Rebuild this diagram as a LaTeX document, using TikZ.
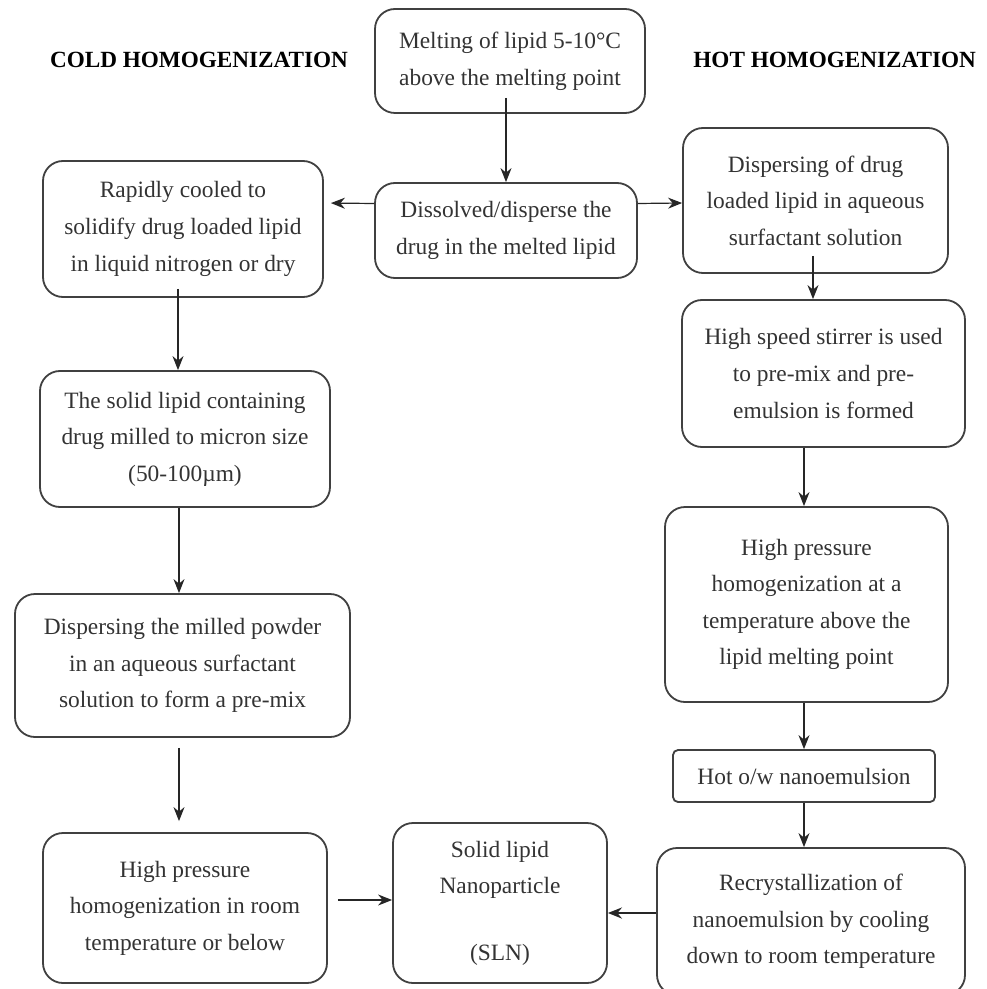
\documentclass[tikz,border=0pt]{standalone}
\usepackage{fontspec}
\setmainfont{Liberation Serif}
\usetikzlibrary{calc,arrows.meta}
\tikzset{>={Stealth[length=7pt,width=5.5pt]}}
\tikzset{
  stage/.style={draw=black!75, line width=0.9pt, rounded corners=10pt, align=center,
    text=black!80, inner sep=0pt, font=\fontsize{11.7}{18.3}\selectfont},
  heading/.style={font=\fontsize{11.6}{14}\selectfont\bfseries, text=black},
  flow/.style={->, line width=0.6pt, draw=black!85}
}

\begin{document}
\begin{tikzpicture}[x=0.5pt, y=-0.5pt]
    \fill[white] (0,0) rectangle (986,989);
    \useasboundingbox (0,0) rectangle (986,989);
    \node[heading] (coldhead) at (199,60) {COLD HOMOGENIZATION};
    \node[heading, anchor=east] (hothead) at (983,60) {HOT HOMOGENIZATION};
    % middle column
    \node[stage, minimum width=135pt, minimum height=52pt] (melt) at (510,61)
      {Melting of lipid 5-10°C\\above the melting point};
    \node[stage, minimum width=131pt, minimum height=47.5pt] (dissolve) at (506,230.5)
      {Dissolved/disperse the\\drug in the melted lipid};
    \node[stage, minimum width=107pt, minimum height=80pt] (sln) at (500,903)
      {Solid lipid\\Nanoparticle\\[15pt](SLN)};
    % cold branch
    \node[stage, minimum width=140pt, minimum height=68pt] (cool) at (183,229)
      {Rapidly cooled to\\solidify drug loaded lipid\\in liquid nitrogen or dry};
    \node[stage, minimum width=145pt, minimum height=68pt] (mill) at (185,439)
      {The solid lipid containing\\drug milled to micron size\\(50-100µm)};
    \node[stage, minimum width=167.5pt, minimum height=71.5pt] (powder) at (182.5,665.5)
      {Dispersing the milled powder\\in an aqueous surfactant\\solution to form a pre-mix};
    \node[stage, minimum width=142pt, minimum height=75pt] (hpcold) at (185,908)
      {High pressure\\homogenization in room\\temperature or below};
    % hot branch
    \node[stage, minimum width=132.5pt, minimum height=72.5pt] (disp) at (815.5,200.5)
      {Dispersing of drug\\loaded lipid in aqueous\\surfactant solution};
    \node[stage, minimum width=141.5pt, minimum height=73.5pt] (stir) at (823.5,373.5)
      {High speed stirrer is used\\to pre-mix and pre-\\emulsion is formed};
    \node[stage, minimum width=141.5pt, minimum height=97.5pt] (hphot) at (806.5,604.5)
      {High pressure\\homogenization at a\\temperature above the\\lipid melting point};
    \node[stage, rounded corners=2.5pt, minimum width=131pt, minimum height=26pt] (hot) at (804,776)
      {Hot o/w nanoemulsion};
    \node[stage, minimum width=154pt, minimum height=73.5pt] (recryst) at (811,921.5)
      {Recrystallization of\\nanoemulsion by cooling\\down to room temperature};

    \draw[flow] ($(melt.south -| dissolve.north)+(0,-16)$) -- (dissolve.north);
    \draw[flow, shorten >=3.5pt] ($(dissolve.west)+(0,-27)$) -- ($(cool.east)+(0,-26)$);
    \draw[flow] ($(dissolve.east)+(0,-27)$) -- ($(disp.west)+(0,2.5)$);
    \draw[flow] ($(cool.south)+(-5,-9)$) -- ($(mill.north)+(-7,0)$);
    \draw[flow] ($(mill.south)+(-6,0)$) -- ($(powder.north)+(-3.5,0)$);
    \draw[flow, shorten <=5pt, shorten >=5.5pt] ($(powder.south)+(-3.5,0)$) -- ($(hpcold.north)+(-6,0)$);
    \draw[flow, shorten <=5pt] ($(hpcold.east)+(0,-8)$) -- ($(sln.west)+(0,-3)$);
    \draw[flow, line width=1.3pt] ($(recryst.west)+(0,-8.5)$) -- ($(sln.east)+(0,10)$);
    \draw[flow] ($(disp.south)+(-2.5,-18)$) -- ($(stir.north)+(-10.5,0)$);
    \draw[flow] (stir.south -| hot.north) -- (hphot.north -| hot.north);
    \draw[flow] (hphot.south -| hot.north) -- (hot.north);
    \draw[flow] (hot.south) -- (recryst.north -| hot.south);
\end{tikzpicture}
\end{document}
